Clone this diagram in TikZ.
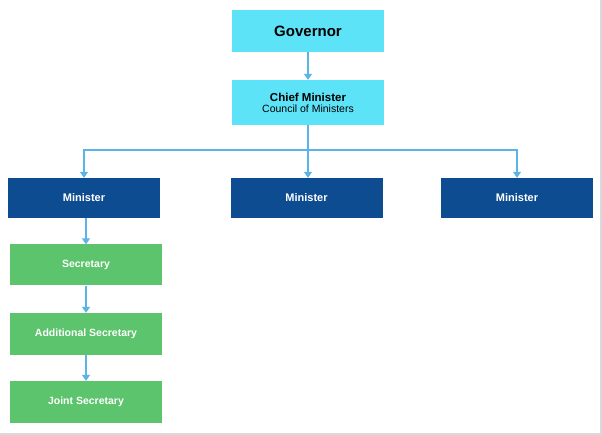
\documentclass[tikz,border=0pt]{standalone}
\usepackage{fontspec}
\setmainfont{Liberation Sans}
\usetikzlibrary{arrows.meta}
\definecolor{cy}{HTML}{5DE3F7}
\definecolor{nv}{HTML}{0E4C91}
\definecolor{gr}{HTML}{5CC46C}
\definecolor{ar}{HTML}{5AB4E6}
\begin{document}
\begin{tikzpicture}[x=1pt,y=-1pt,
 box/.style={minimum width=152pt,minimum height=41pt,inner sep=0pt,font=\bfseries},
 cyb/.style={box,fill=cy,text=black},
 nvb/.style={box,fill=nv,text=white,minimum height=40pt,font=\bfseries\fontsize{11}{13}\selectfont},
 grb/.style={box,fill=gr,text=white,font=\bfseries\fontsize{10.5}{12}\selectfont},
 arr/.style={draw=ar,line width=1.3pt,-{Triangle[length=6pt,width=8pt]}}]
\useasboundingbox[fill=white] (0,0) rectangle (602,435);
\draw[gray!30,line width=2pt] (0,434) -- (602,434) (601,0) -- (601,435);
\node[cyb,minimum height=42pt,font=\bfseries\fontsize{15}{17}\selectfont] (gov) at (308,31) {Governor};
\node[cyb,minimum height=45pt,align=center] (cm) at (308,102.5) {{\fontsize{11.5}{13}\selectfont Chief Minister}\\[-1pt]{\fontsize{10.5}{12}\selectfont\mdseries Council of Ministers}};
\node[nvb] (m1) at (84,198) {Minister};
\node[nvb] (m2) at (306.5,198) {Minister};
\node[nvb] (m3) at (517,198) {Minister};
\node[grb] (s1) at (86,265) {Secretary};
\node[grb,minimum height=42pt] (s2) at (86,334) {Additional Secretary};
\node[grb,minimum height=42pt] (s3) at (86,402) {Joint Secretary};
\coordinate (j) at (308,150);
\draw[arr] (gov) -- (cm);
\draw[draw=ar,line width=1.3pt] (cm.south) -- (j);
\draw[arr] (j) -| (m1.north);
\draw[arr] (j) -| (m3.north);
\draw[arr] (j) -- (j|-m2.north);
\draw[arr] (m1.south-|s1) -- (s1);
\draw[arr] (s1) -- (s2);
\draw[arr] (s2) -- (s3);
\end{tikzpicture}
\end{document}
